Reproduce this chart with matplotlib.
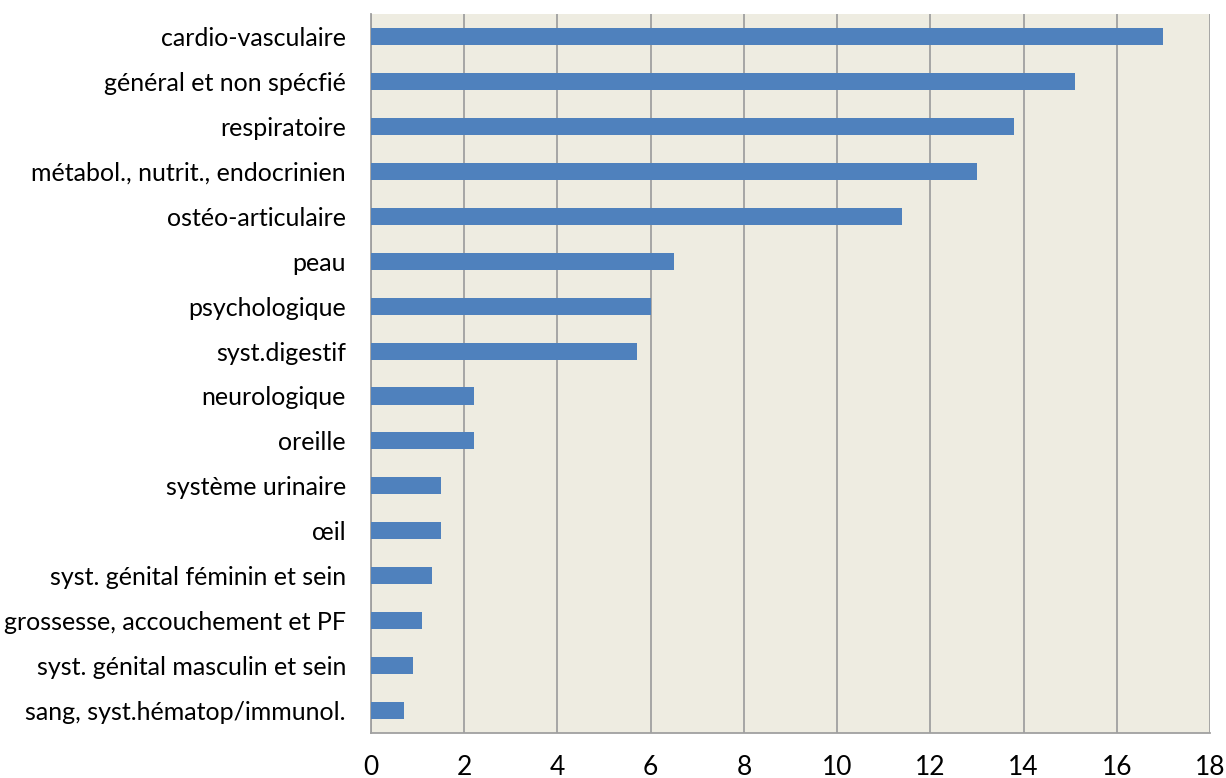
import matplotlib

matplotlib.use("Agg")
import matplotlib.pyplot as plt

categories = [
    "cardio-vasculaire",
    "général et non spécfié",
    "respiratoire",
    "métabol., nutrit., endocrinien",
    "ostéo-articulaire",
    "peau",
    "psychologique",
    "syst.digestif",
    "neurologique",
    "oreille",
    "système urinaire",
    "œil",
    "syst. génital féminin et sein",
    "grossesse, accouchement et PF",
    "syst. génital masculin et sein",
    "sang, syst.hématop/immunol.",
]
values = [17.0, 15.1, 13.8, 13.0, 11.4, 6.5, 6.0, 5.7, 2.2, 2.2, 1.5, 1.5, 1.3, 1.1, 0.9, 0.7]
xticks = [0, 2, 4, 6, 8, 10, 12, 14, 16, 18]

plt.rcParams["font.family"] = ["Lato", "DejaVu Sans"]

fig = plt.figure(figsize=(12.26, 7.78), dpi=100)
ax = fig.add_axes([0.3026, 0.0578, 0.987 - 0.3026, 0.982 - 0.0578])
ax.set_facecolor("#EEECE1")

pos = list(range(len(categories)))
ax.barh(pos, values, height=0.38, color="#4F81BD", zorder=3)
ax.set_ylim(len(categories) - 0.5, -0.5)
ax.set_yticks(pos)
ax.set_yticklabels(categories, fontsize=18)
ax.set_xlim(0, 18)
ax.set_xticks(xticks)
ax.set_xticklabels([str(t) for t in xticks], fontsize=19)

ax.grid(axis="x", color="#A0A0A0", linewidth=1.3, zorder=1)
for side in ("top", "right"):
    ax.spines[side].set_visible(False)
for side in ("left", "bottom"):
    ax.spines[side].set_color("#A0A0A0")
    ax.spines[side].set_linewidth(1.3)
ax.tick_params(axis="y", length=0, pad=18)
ax.tick_params(axis="x", length=0, pad=16)

fig.savefig("out.png", dpi=100)
